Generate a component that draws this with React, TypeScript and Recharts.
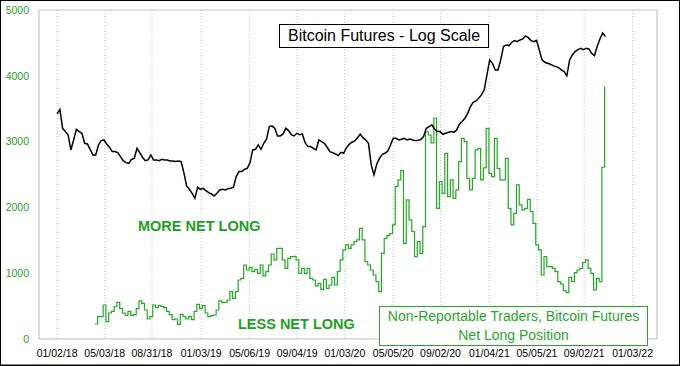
import React from 'react';
import { ComposedChart, Line, XAxis, YAxis, CartesianGrid, ReferenceArea } from 'recharts';

// Tick labels (dates, mm/dd/yy)
const xTickLabels = [
  '01/02/18', '05/03/18', '08/31/18', '01/03/19', '05/06/19', '09/04/19', '01/03/20',
  '05/05/20', '09/02/20', '01/04/21', '05/05/21', '09/02/21', '01/03/22',
];
const yTicks = [0, 1000, 2000, 3000, 4000, 5000];

// Bitcoin futures (plotted on the log-scale panel, read in chart units), weekly from start date
const futuresStart = '01/02/18';
const futuresWeekly = [
  3420, 3490, 3202, 3152, 3101, 2873, 3025, 3187, 3152, 3126,
  2974, 2964, 2883, 2797, 2797, 2949, 3015, 3025, 2964, 2914,
  2848, 2848, 2832, 2772, 2711, 2680, 2670, 2731, 2746, 2898,
  2832, 2762, 2711, 2721, 2797, 2721, 2721, 2711, 2731, 2721,
  2721, 2706, 2706, 2696, 2706, 2696, 2529, 2326, 2275, 2214,
  2138, 2306, 2275, 2290, 2255, 2224, 2204, 2174, 2214, 2265,
  2275, 2265, 2285, 2290, 2306, 2468, 2544, 2544, 2579, 2594,
  2680, 2873, 2883, 2949, 2883, 2974, 3035, 3228, 3238, 3202,
  3086, 3086, 3116, 3202, 3167, 3106, 3086, 3126, 3106, 3116,
  2984, 2924, 2924, 2898, 2873, 3025, 3000, 2974, 2914, 2848,
  2832, 2812, 2787, 2837, 2822, 2908, 2959, 2990, 3010, 3060,
  3111, 3060, 3025, 2974, 2645, 2493, 2655, 2746, 2807, 2822,
  2858, 2949, 3050, 3050, 3025, 3035, 3050, 3025, 3040, 3025,
  3015, 3020, 3030, 3076, 3202, 3228, 3253, 3192, 3152, 3152,
  3111, 3126, 3141, 3152, 3141, 3177, 3263, 3304, 3354, 3430,
  3532, 3597, 3618, 3658, 3709, 3785, 4013, 4241, 4190, 4089,
  4089, 4241, 4444, 4469, 4459, 4510, 4535, 4520, 4545, 4560,
  4606, 4580, 4535, 4520, 4540, 4393, 4241, 4205, 4190, 4175,
  4155, 4140, 4124, 4089, 4064, 4000, 4241, 4317, 4368, 4398,
  4418, 4398, 4418, 4408, 4342, 4307, 4444, 4560, 4650, 4596,
];

// Non-Reportable Traders net long position, weekly from start date
const netLongStart = '04/08/18';
const netLongWeekly = [
  228, 339, 339, 517, 263, 395, 420, 490, 557, 466,
  395, 360, 420, 360, 370, 461, 578, 542, 441, 304,
  339, 517, 476, 507, 491, 476, 420, 370, 294, 304,
  223, 375, 339, 304, 339, 294, 420, 527, 461, 507,
  395, 339, 355, 365, 441, 578, 557, 557, 593, 719,
  618, 719, 897, 922, 1125, 1049, 1089, 1023, 1059, 998,
  1125, 958, 1023, 1125, 1292, 1201, 1378, 1378, 1201, 1074,
  1226, 1251, 1257, 1201, 998, 1074, 998, 1074, 922, 897,
  806, 846, 755, 907, 770, 821, 937, 821, 1023, 1201,
  1353, 1429, 1378, 1429, 1479, 1505, 1682, 1505, 1175, 1125,
  1049, 973, 871, 719, 1302, 1530, 1570, 1600, 1733, 2316,
  2417, 2559, 1454, 2113, 1810, 1632, 1252, 1480, 1302, 1708,
  3150, 3100, 2980, 3355, 1986, 2392, 2214, 2822, 2164, 2417,
  2138, 2265, 2696, 3050, 3000, 2442, 2265, 2442, 2873, 2898,
  2417, 2600, 3202, 2518, 2468, 3050, 2594, 2417, 2417, 2746,
  1986, 1733, 1910, 2341, 2037, 1961, 1986, 2123, 1936, 1758,
  1429, 1353, 973, 1252, 1100, 1100, 1074, 1024, 871, 836,
  735, 704, 937, 871, 1009, 1049, 1074, 1160, 1201, 1074,
  998, 745, 922, 871, 2610, 3836,
];

const dayOf = (label: string): number => {
  const [m, d, y] = label.split('/').map(Number);
  return Math.round((Date.UTC(2000 + y, m - 1, d) - Date.UTC(2018, 0, 2)) / 86400000);
};

const xTickDays = xTickLabels.map(dayOf);
const labelByDay: Record<number, string> = {};
xTickDays.forEach((d, i) => { labelByDay[d] = xTickLabels[i]; });

const futuresData = futuresWeekly.map((v, i) => ({ t: dayOf(futuresStart) + 7 * i, v }));
const netLongData = netLongWeekly.map((v, i) => ({ t: dayOf(netLongStart) + 7 * i, v }));

const GREEN = '#1f9f1f';
const FONT = '"Liberation Sans", Arial, sans-serif';

export default function App() {
  return (
    <div style={{ position: 'absolute', left: 0, top: 0, width: 680, height: 366, background: '#fff', fontFamily: FONT }}>
      <ComposedChart
        width={680}
        height={366}
        margin={{ top: 10, right: 23, bottom: 0, left: 0 }}
        style={{ fontFamily: FONT }}
      >
        <CartesianGrid horizontal={false} vertical stroke="#c4c4c4" strokeDasharray="1 2" />
        <ReferenceArea x1={-46} x2={1524} y1={0} y2={5000} fill="none" stroke="#c0c0c0" strokeWidth={1} ifOverflow="visible" />
        <XAxis
          type="number"
          dataKey="t"
          domain={[-46, 1524]}
          ticks={xTickDays}
          interval={0}
          tickFormatter={(d: number) => labelByDay[d] ?? ''}
          tickLine={false}
          axisLine={false}
          tickSize={0}
          tickMargin={11}
          height={27}
          tick={{ fill: '#000', fontSize: 10.5, fontFamily: FONT }}
          allowDataOverflow
        />
        <YAxis
          type="number"
          domain={[0, 5000]}
          ticks={yTicks}
          interval={0}
          tickLine={false}
          axisLine={false}
          tickSize={0}
          tickMargin={10}
          width={39}
          tick={{ fill: GREEN, fontSize: 10.5, fontFamily: FONT }}
        />
        <Line
          data={netLongData}
          dataKey="v"
          type="stepAfter"
          stroke="#22a822"
          strokeWidth={1.2}
          dot={false}
          activeDot={false}
          isAnimationActive={false}
        />
        <Line
          data={futuresData}
          dataKey="v"
          type="linear"
          stroke="#000"
          strokeWidth={1.5}
          dot={false}
          activeDot={false}
          isAnimationActive={false}
        />
      </ComposedChart>
      <svg
        width={680}
        height={366}
        style={{ position: 'absolute', left: 0, top: 0, pointerEvents: 'none', fontFamily: FONT }}
      >
        <rect x={279.5} y={24.5} width={209} height={23} fill="#fff" stroke="#000" strokeWidth={1} />
        <text x={384} y={41} textAnchor="middle" fontSize={16} fill="#000">Bitcoin Futures - Log Scale</text>
        <text x={138} y={231} fontSize={14.5} fontWeight="bold" fill={GREEN}>MORE NET LONG</text>
        <text x={238} y={328.5} fontSize={14.5} fontWeight="bold" fill={GREEN}>LESS NET LONG</text>
        <rect x={379.5} y={306.5} width={268} height={39} fill="#fff" stroke="#2aa52a" strokeWidth={1} />
        <text x={513.5} y={321} textAnchor="middle" fontSize={14} fill="#2aa52a">Non-Reportable Traders, Bitcoin Futures</text>
        <text x={513.5} y={340} textAnchor="middle" fontSize={14} fill="#2aa52a">Net Long Position</text>
        <rect x={0.5} y={0.5} width={679} height={364.5} fill="none" stroke="#000" strokeWidth={1} />
        <line x1={0} y1={365.5} x2={680} y2={365.5} stroke="#000" strokeWidth={1} />
      </svg>
    </div>
  );
}
